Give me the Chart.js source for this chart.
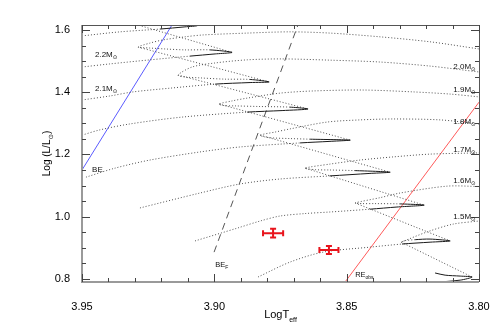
<!DOCTYPE html>
<html>
<head>
<meta charset="utf-8">
<script src="https://cdn.jsdelivr.net/npm/chart.js@4.4.1/dist/chart.umd.min.js"></script>
<style>
  html, body { margin: 0; padding: 0; background: #fff; }
  canvas { display: block; }
</style>
</head>
<body>
<canvas id="hrd" width="504" height="335"></canvas>
<script>
// evolutionary tracks, [logTeff, logL]: main sequence -> hook -> post-MS
const track22 = [[3.950, 1.581], [3.9356, 1.594], [3.9205, 1.603], [3.9111, 1.610], [3.9065, 1.614],
  [3.9111, 1.622], [3.9205, 1.629], [3.932, 1.635], [3.9394, 1.642]];
const track21 = [[3.950, 1.481], [3.9394, 1.491], [3.9243, 1.504], [3.9092, 1.516], [3.8997, 1.523], [3.8933, 1.528],
  [3.9016, 1.536], [3.9111, 1.536], [3.9186, 1.539], [3.9243, 1.542], [3.9288, 1.545],
  [3.9243, 1.558], [3.9194, 1.568], [3.9111, 1.578], [3.9043, 1.584], [3.8876, 1.590], [3.8714, 1.594],
  [3.8563, 1.590], [3.8374, 1.578], [3.8185, 1.562], [3.800, 1.539]];
const track20 = [[3.950, 1.375], [3.9394, 1.388], [3.9307, 1.401], [3.9167, 1.413], [3.8997, 1.426], [3.8865, 1.431], [3.8793, 1.433],
  [3.8865, 1.441], [3.8960, 1.442], [3.9054, 1.446], [3.9111, 1.449], [3.9137, 1.455],
  [3.9084, 1.481], [3.8997, 1.494], [3.8876, 1.504], [3.8744, 1.507], [3.8563, 1.503], [3.8374, 1.497],
  [3.8185, 1.484], [3.800, 1.465]];
const track19 = [[3.950, 1.262], [3.9432, 1.279], [3.9319, 1.298], [3.9122, 1.320], [3.8876, 1.336], [3.8744, 1.341], [3.8646, 1.346],
  [3.8714, 1.352], [3.8827, 1.354], [3.8922, 1.356], [3.8963, 1.357], [3.8982, 1.362],
  [3.8933, 1.372], [3.8876, 1.381], [3.8752, 1.397], [3.8627, 1.404], [3.8438, 1.407], [3.8249, 1.401],
  [3.8109, 1.394], [3.800, 1.385]];
const track18 = [[3.9485, 1.127], [3.9375, 1.156], [3.9243, 1.182], [3.9054, 1.208], [3.8903, 1.224], [3.8676, 1.237], [3.8563, 1.242], [3.8487, 1.246],
  [3.8638, 1.249], [3.8714, 1.251], [3.8778, 1.253], [3.8808, 1.256], [3.8827, 1.262],
  [3.8770, 1.272], [3.8714, 1.282], [3.8574, 1.304], [3.8449, 1.311], [3.8325, 1.314], [3.8147, 1.311], [3.800, 1.298]];
const track17 = [[3.9281, 1.028], [3.9054, 1.076], [3.8903, 1.105], [3.8752, 1.121], [3.8563, 1.131], [3.8412, 1.139], [3.8336, 1.143],
  [3.8468, 1.148], [3.8563, 1.150], [3.8619, 1.151], [3.8657, 1.156],
  [3.8563, 1.169], [3.8449, 1.182], [3.8325, 1.192], [3.8185, 1.201], [3.800, 1.205]];
const track16 = [[3.9073, 0.922], [3.8914, 0.963], [3.8827, 0.986], [3.8752, 1.002], [3.8657, 1.010], [3.8563, 1.015], [3.8412, 1.024], [3.8310, 1.031], [3.8207, 1.037],
  [3.8298, 1.041], [3.8393, 1.042], [3.8442, 1.042], [3.8468, 1.044],
  [3.8374, 1.061], [3.8298, 1.076], [3.8121, 1.098], [3.800, 1.097]];
const track15 = [[3.8835, 0.806], [3.8714, 0.854], [3.8589, 0.886], [3.8412, 0.902], [3.8291, 0.912], [3.8185, 0.918], [3.8109, 0.922],
  [3.8185, 0.928], [3.8241, 0.926], [3.8279, 0.923], [3.8294, 0.918],
  [3.8196, 0.951], [3.8098, 0.976], [3.800, 0.986]];
const track14 = [[3.8374, 0.764], [3.8185, 0.787], [3.8071, 0.796], [3.8026, 0.806],
  [3.8071, 0.809], [3.8128, 0.812], [3.8166, 0.819]];
const tracks = [track22, track21, track20, track19, track18, track17, track16, track15, track14];

// dotted lines running from each hook down to the next track
const descLines = [
  [[3.9394, 1.642], [3.8933, 1.528]],
  [[3.9288, 1.545], [3.8793, 1.433]],
  [[3.9137, 1.455], [3.8646, 1.346]],
  [[3.8982, 1.362], [3.8487, 1.246]],
  [[3.8827, 1.262], [3.8336, 1.143]],
  [[3.8657, 1.156], [3.8207, 1.037]],
  [[3.8468, 1.044], [3.8109, 0.922]],
  [[3.8294, 0.918], [3.8026, 0.806]]
];

// instability strip edges
const blueEdge = [[3.95, 1.15], [3.916, 1.616]];
const blueEdgeF = [[3.9001, 0.886], [3.8684, 1.616]];
const redEdgeObs = [[3.8506, 0.79], [3.80, 1.368]];

// observed star(s) with errors
const obsLogT = [3.8778, 3.8567];
const obsLogL = [0.947, 0.893];
const obsErrT = [0.0038, 0.0036];
const obsErrL = [0.014, 0.013];

const xTicks = [3.95, 3.90, 3.85, 3.80];
const yTicks = [0.8, 1.0, 1.2, 1.4, 1.6];
const leftMassLabels = ['2.2', '2.1'];
const rightMassLabels = ['2.0', '1.9', '1.8', '1.7', '1.6', '1.5'];

const FONT = '"Liberation Sans", Arial, "DejaVu Sans", sans-serif';
const DOT = '#505050';
Chart.defaults.font.family = FONT;

const toXY = pts => pts.map(p => ({ x: p[0], y: p[1] }));

// solid stretch around the red-most point of the track (the hook)
function loopFlags(pts) {
  let tip = 0;
  while (tip < pts.length - 1 && pts[tip + 1][0] < pts[tip][0]) tip++;
  let cusp = tip;
  while (cusp < pts.length - 1 && pts[cusp + 1][0] > pts[cusp][0]) cusp++;
  const tipT = pts[tip][0];
  return pts.map((p, i) => {
    if (i < tip) return p[0] <= tipT + 0.028;
    if (i < cusp) return pts[i + 1][0] <= tipT + 0.016;
    return false;
  });
}

const datasets = [];
tracks.forEach(pts => {
  const solid = loopFlags(pts);
  datasets.push({
    data: toXY(pts),
    borderColor: DOT,
    borderWidth: 1,
    borderDash: [1, 2],
    tension: 0.3,
    segment: {
      borderDash: ctx => solid[ctx.p0DataIndex] ? [] : [1, 2],
      borderColor: ctx => solid[ctx.p0DataIndex] ? '#1a1a1a' : DOT
    }
  });
});
descLines.forEach(l => {
  datasets.push({ data: toXY(l), borderColor: DOT, borderWidth: 1, borderDash: [1, 2] });
});
datasets.push({ data: toXY(blueEdge), borderColor: '#5b5bff', borderWidth: 1 });
datasets.push({ data: toXY(redEdgeObs), borderColor: '#ff5a5a', borderWidth: 1 });
datasets.push({ data: toXY(blueEdgeF), borderColor: '#555', borderWidth: 1, borderDash: [7, 5] });

function subText(ctx, px, py, main, sub, size, subSize, drop) {
  ctx.font = size + 'px ' + FONT;
  ctx.fillText(main, px, py);
  const w = ctx.measureText(main).width;
  ctx.font = subSize + 'px ' + FONT;
  ctx.fillText(sub, px + w, py + drop);
  return w + ctx.measureText(sub).width;
}

const decor = {
  id: 'decor',
  afterDatasetsDraw(chart) {
    const { ctx, chartArea: a, scales: { x, y } } = chart;
    ctx.save();

    // error bars
    ctx.strokeStyle = '#e8141c';
    ctx.lineWidth = 2;
    obsLogT.forEach((t, i) => {
      const cx = x.getPixelForValue(t), cy = y.getPixelForValue(obsLogL[i]);
      const x1 = x.getPixelForValue(t + obsErrT[i]), x2 = x.getPixelForValue(t - obsErrT[i]);
      const y1 = y.getPixelForValue(obsLogL[i] + obsErrL[i]), y2 = y.getPixelForValue(obsLogL[i] - obsErrL[i]);
      ctx.beginPath();
      ctx.moveTo(x1, cy); ctx.lineTo(x2, cy);
      ctx.moveTo(cx, y1); ctx.lineTo(cx, y2);
      ctx.moveTo(x1, cy - 3); ctx.lineTo(x1, cy + 3);
      ctx.moveTo(x2, cy - 3); ctx.lineTo(x2, cy + 3);
      ctx.moveTo(cx - 3, y1); ctx.lineTo(cx + 3, y1);
      ctx.moveTo(cx - 3, y2); ctx.lineTo(cx + 3, y2);
      ctx.stroke();
    });

    // frame
    ctx.strokeStyle = '#9a9a9a';
    ctx.lineWidth = 2;
    ctx.beginPath();
    ctx.moveTo(a.left, a.top); ctx.lineTo(a.left, a.bottom); ctx.lineTo(a.right, a.bottom);
    ctx.stroke();
    ctx.strokeStyle = '#555';
    ctx.lineWidth = 1;
    ctx.beginPath();
    ctx.moveTo(a.left, a.top + 0.5); ctx.lineTo(a.right + 0.5, a.top + 0.5); ctx.lineTo(a.right + 0.5, a.bottom);
    ctx.stroke();

    // inward ticks on all four sides
    ctx.strokeStyle = '#444';
    ctx.beginPath();
    for (let i = 0; i <= 15; i++) {
      const px = Math.round(x.getPixelForValue(3.80 + i * 0.01)) + 0.5;
      const len = i % 5 === 0 ? 8 : 4;
      ctx.moveTo(px, a.bottom); ctx.lineTo(px, a.bottom - len);
      ctx.moveTo(px, a.top); ctx.lineTo(px, a.top + len);
    }
    for (let i = 0; i <= 16; i++) {
      const py = Math.round(y.getPixelForValue(0.8 + i * 0.05)) + 0.5;
      const len = i % 4 === 0 ? 8 : 4;
      ctx.moveTo(a.left, py); ctx.lineTo(a.left + len, py);
      ctx.moveTo(a.right, py); ctx.lineTo(a.right - len, py);
    }
    ctx.stroke();

    // mass labels
    ctx.fillStyle = '#111';
    ctx.textBaseline = 'alphabetic';
    ctx.textAlign = 'left';
    const leftAt = [1.512, 1.4035];
    leftMassLabels.forEach((m, i) => {
      subText(ctx, x.getPixelForValue(3.9451), y.getPixelForValue(leftAt[i]), m + 'M', '\u2299', 8, 5.5, 2);
    });
    const rightAt = [1.4746, 1.3997, 1.2977, 1.2093, 1.1071, 0.9923];
    rightMassLabels.forEach((m, i) => {
      subText(ctx, x.getPixelForValue(3.8097), y.getPixelForValue(rightAt[i]), m + 'M', '\u2299', 8, 5.5, 2);
    });

    // strip edge labels
    ctx.font = '8px ' + FONT;
    ctx.fillText('BE', x.getPixelForValue(3.9462), y.getPixelForValue(1.1434));
    subText(ctx, x.getPixelForValue(3.8997), y.getPixelForValue(0.838), 'BE', 'F', 7.5, 5, 2);
    subText(ctx, x.getPixelForValue(3.8468), y.getPixelForValue(0.8058), 'RE', 'obs', 7.5, 5, 2);

    // axis titles
    ctx.fillStyle = '#000';
    ctx.font = '11px ' + FONT;
    const w1 = ctx.measureText('LogT').width;
    ctx.font = '7px ' + FONT;
    const w2 = ctx.measureText('eff').width;
    subText(ctx, (a.left + a.right) / 2 - (w1 + w2) / 2, 318, 'LogT', 'eff', 11, 7, 4);

    ctx.translate(50, (a.top + a.bottom) / 2);
    ctx.rotate(-Math.PI / 2);
    ctx.font = '10px ' + FONT;
    const t1 = ctx.measureText('Log (L/L').width;
    ctx.font = '6.5px ' + FONT;
    const t2 = ctx.measureText('\u2299').width;
    ctx.font = '10px ' + FONT;
    const t3 = ctx.measureText(')').width;
    const sx = -(t1 + t2 + t3) / 2;
    ctx.fillText('Log (L/L', sx, 0);
    ctx.font = '6.5px ' + FONT;
    ctx.fillText('\u2299', sx + t1, 3);
    ctx.font = '10px ' + FONT;
    ctx.fillText(')', sx + t1 + t2, 0);

    ctx.restore();
  }
};

new Chart(document.getElementById('hrd'), {
  type: 'scatter',
  data: { datasets: datasets.map(d => Object.assign({ showLine: true, pointRadius: 0, fill: false, tension: 0 }, d)) },
  options: {
    responsive: false,
    animation: false,
    events: [],
    layout: { padding: { top: 25, right: 25, left: 0, bottom: 0 } },
    plugins: { legend: { display: false }, tooltip: { enabled: false } },
    scales: {
      x: {
        type: 'linear',
        reverse: true,
        min: 3.80,
        max: 3.95,
        grid: { display: false },
        border: { display: false },
        afterBuildTicks: axis => { axis.ticks = xTicks.map(v => ({ value: v })); },
        afterFit: scale => { scale.height = 53; },
        ticks: { autoSkip: false, maxRotation: 0, padding: 10, color: '#000', font: { size: 11 },
          callback: v => v.toFixed(2) }
      },
      y: {
        type: 'linear',
        min: 0.79,
        max: 1.616,
        grid: { display: false },
        border: { display: false },
        afterBuildTicks: axis => { axis.ticks = yTicks.map(v => ({ value: v })); },
        afterFit: scale => { scale.width = 82; },
        ticks: { autoSkip: false, padding: 4, color: '#000', font: { size: 11 },
          callback: v => v.toFixed(1) }
      }
    }
  },
  plugins: [decor]
});
</script>
</body>
</html>
